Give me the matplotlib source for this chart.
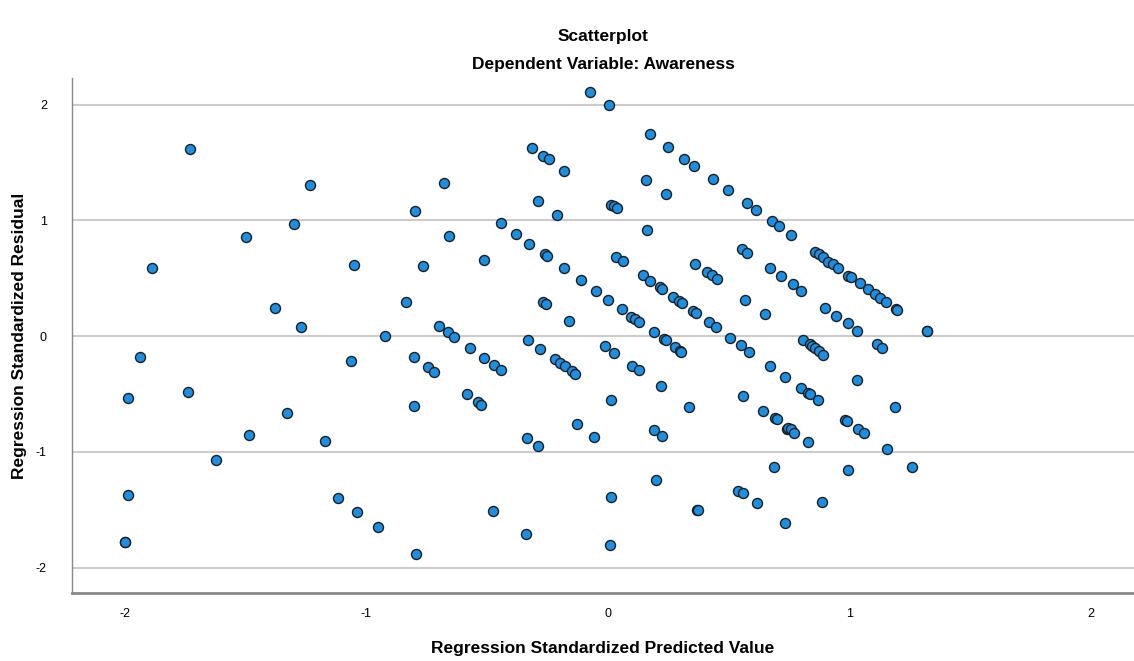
import matplotlib
matplotlib.use("Agg")
import matplotlib.pyplot as plt

plt.rcParams['font.family'] = ['Liberation Sans', 'DejaVu Sans']

title = "Scatterplot"
subtitle = "Dependent Variable: Awareness"
x_label = "Regression Standardized Predicted Value"
y_label = "Regression Standardized Residual"
ticks = [-2, -1, 0, 1, 2]

# standardized predicted values (x) and residuals (y)
pred = [
    -1.73, -1.30, -1.50, -1.89, -1.38, -1.27, -1.94, -1.99, -1.74, -1.33,
    -1.485, -1.625, -1.99, -2.0, -2.0, -1.234, -0.679, -0.80, -0.656, -1.053,
    -0.766, -0.513, -0.838, -0.922, -0.70, -0.663, -0.638, -0.571, -0.513, -1.064,
    -0.805, -0.744, -0.719, -0.585, -0.538, -0.527, -0.805, -1.17, -1.119, -1.039,
    -0.951, -0.794, -0.476,
    -0.073, 0.005, -0.315, -0.268, -0.245, -0.18, -0.288, -0.21, 0.015, 0.025,
    0.036, -0.444, -0.379, -0.327, -0.261, -0.254, -0.183, -0.113, -0.047, 0.0,
    0.057, 0.098, 0.112, 0.13, 0.033, 0.064, -0.268, -0.257, -0.162, -0.331,
    -0.279, -0.473, -0.441, -0.22, -0.199, -0.178, -0.149, -0.134, -0.012, 0.024,
    0.101, 0.13, 0.015, -0.127, -0.333, -0.288, -0.057, -0.341, 0.015, 0.008,
    0.174, 0.25, 0.317, 0.358, 0.434, 0.497, 0.575, 0.613, 0.679, 0.708,
    0.757, 0.158, 0.239, 0.163, 0.557, 0.578, 0.361, 0.41, 0.43, 0.451,
    0.672, 0.716, 0.147, 0.174, 0.216, 0.223, 0.271, 0.295, 0.306, 0.354,
    0.364, 0.419, 0.448, 0.568, 0.651, 0.191, 0.234, 0.243, 0.278, 0.299,
    0.303, 0.506, 0.551, 0.585, 0.672, 0.732, 0.219, 0.337, 0.559, 0.644,
    0.693, 0.70, 0.742, 0.191, 0.223, 0.689, 0.198, 0.541, 0.559, 0.617,
    0.368, 0.375, 0.732,
    0.859, 0.873, 0.891, 0.914, 0.931, 0.953, 0.997, 1.008, 1.046, 1.076,
    1.105, 1.129, 1.154, 1.195, 1.20, 0.766, 0.801, 0.898, 0.945, 0.993,
    1.034, 1.322, 1.322, 0.808, 0.838, 1.115, 0.845, 0.859, 0.873, 0.891,
    1.138, 0.80, 0.831, 0.838, 0.87, 1.034, 1.191, 0.748, 0.758, 0.773,
    0.831, 0.983, 0.99, 1.036, 1.062, 1.156, 1.26, 0.993, 0.889,
]
resid = [
    1.62, 0.97, 0.86, 0.59, 0.245, 0.08, -0.18, -0.536, -0.487, -0.668,
    -0.858, -1.07, -1.374, -1.783, -1.78, 1.305, 1.32, 1.08, 0.867, 0.611,
    0.605, 0.654, 0.291, -0.003, 0.086, 0.032, -0.006, -0.106, -0.193, -0.219,
    -0.178, -0.268, -0.311, -0.504, -0.573, -0.596, -0.605, -0.905, -1.397, -1.518,
    -1.654, -1.887, -1.513,
    2.11, 1.997, 1.625, 1.556, 1.527, 1.429, 1.164, 1.048, 1.135, 1.124,
    1.106, 0.974, 0.879, 0.798, 0.706, 0.694, 0.585, 0.484, 0.386, 0.314,
    0.231, 0.167, 0.147, 0.118, 0.685, 0.646, 0.291, 0.274, 0.132, -0.035,
    -0.115, -0.251, -0.297, -0.201, -0.236, -0.259, -0.305, -0.326, -0.089, -0.144,
    -0.257, -0.294, -0.553, -0.763, -0.879, -0.948, -0.87, -1.709, -1.394, -1.809,
    1.746, 1.631, 1.53, 1.469, 1.357, 1.262, 1.147, 1.092, 0.994, 0.951,
    0.873, 1.348, 1.225, 0.916, 0.752, 0.72, 0.622, 0.55, 0.527, 0.493,
    0.585, 0.519, 0.527, 0.478, 0.421, 0.409, 0.334, 0.305, 0.288, 0.216,
    0.201, 0.118, 0.075, 0.311, 0.19, 0.032, -0.026, -0.037, -0.092, -0.13,
    -0.138, -0.015, -0.075, -0.136, -0.259, -0.351, -0.432, -0.611, -0.516, -0.645,
    -0.711, -0.72, -0.801, -0.812, -0.862, -1.129, -1.245, -1.337, -1.36, -1.446,
    -1.504, -1.507, -1.619,
    0.726, 0.709, 0.68, 0.642, 0.62, 0.585, 0.519, 0.507, 0.461, 0.404,
    0.363, 0.326, 0.297, 0.231, 0.225, 0.447, 0.392, 0.245, 0.176, 0.109,
    0.046, 0.046, 0.04, -0.035, -0.072, -0.07, -0.086, -0.106, -0.13, -0.164,
    -0.106, -0.452, -0.495, -0.504, -0.553, -0.38, -0.611, -0.792, -0.806, -0.836,
    -0.919, -0.726, -0.735, -0.801, -0.841, -0.98, -1.135, -1.158, -1.432,
]

fig = plt.figure(figsize=(11.34, 6.61), dpi=100)
ax = fig.add_axes([72 / 1134, 1 - 593 / 661, 1 - 72 / 1134, (593 - 78) / 661])

ax.scatter(pred, resid, s=52, color='#1a8fe3', edgecolors='#1e1e1e',
           linewidths=1.0, zorder=3)

ax.set_xlim(-2.22, 2.18)
ax.set_ylim(-2.22, 2.23)
ax.set_xticks(ticks)
ax.set_yticks(ticks)
ax.set_xticklabels([str(t) for t in ticks])
ax.set_yticklabels([str(t) for t in ticks])
ax.tick_params(length=0, labelsize=9)
ax.tick_params(axis='x', pad=11)
ax.tick_params(axis='y', pad=18)

ax.yaxis.grid(True, color='#cccccc', linewidth=1.5)
ax.set_axisbelow(True)
for s in ['top', 'right']:
    ax.spines[s].set_visible(False)
ax.spines['left'].set_color('#8a8a8a')
ax.spines['left'].set_linewidth(1.0)
ax.spines['bottom'].set_color('#8a8a8a')
ax.spines['bottom'].set_linewidth(2.0)

# axis titles placed directly, as in the SPSS layout
fig.text(603 / 1134, 1 - 648 / 661, x_label, ha='center', va='center',
         fontsize=12.5, fontweight='bold')
fig.text(20 / 1134, 1 - 336 / 661, y_label, ha='center', va='center',
         rotation=90, fontsize=12.5, fontweight='bold')

fig.text(603 / 1134, 1 - 37 / 661, title, ha='center', va='center',
         fontsize=12.5, fontweight='bold')
fig.text(603 / 1134, 1 - 65 / 661, subtitle, ha='center', va='center',
         fontsize=12.5, fontweight='bold')

fig.savefig('out.png', dpi=100)
